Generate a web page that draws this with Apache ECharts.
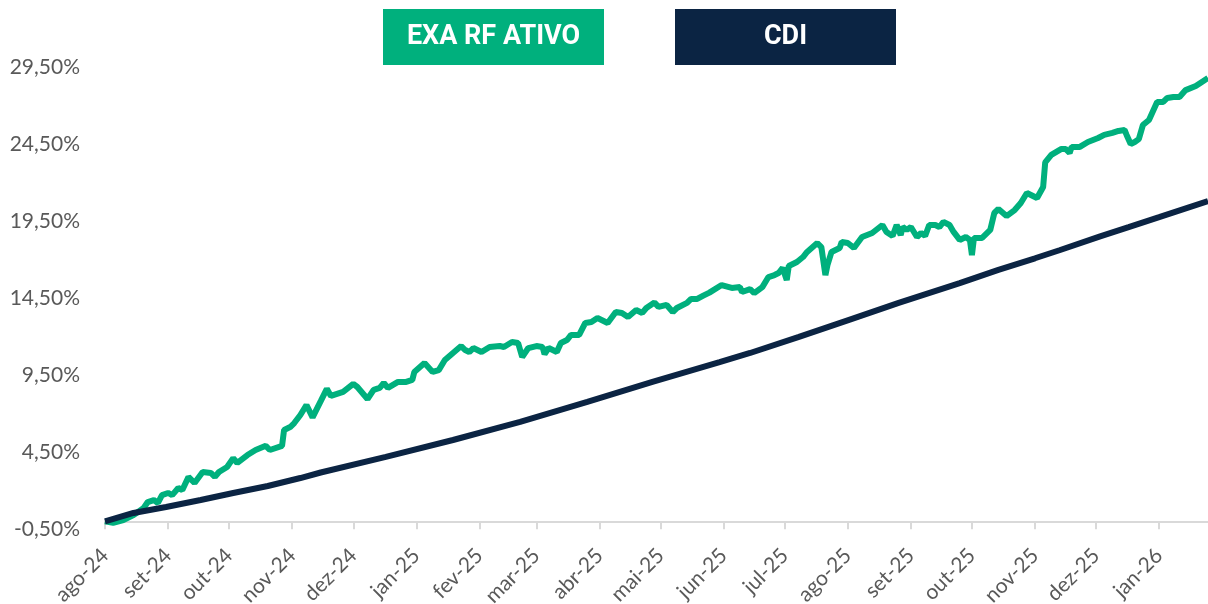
<!DOCTYPE html>
<html>
<head>
<meta charset="utf-8">
<script src="https://cdn.jsdelivr.net/npm/echarts@6/dist/echarts.min.js"></script>
<style>
html,body{margin:0;padding:0;background:#fff;}
#chart{width:1208px;height:604px;}
</style>
</head>
<body>
<div id="chart"></div>
<script>
// ---- Data ----
const seriesNames = ['EXA RF ATIVO', 'CDI'];

const monthStarts = ['2024-08-01','2024-09-01','2024-10-01','2024-11-01','2024-12-01','2025-01-01','2025-02-01','2025-03-01','2025-04-01','2025-05-01','2025-06-01','2025-07-01','2025-08-01','2025-09-01','2025-10-01','2025-11-01','2025-12-01','2026-01-01'];
const monthLabels = ['ago-24','set-24','out-24','nov-24','dez-24','jan-25','fev-25','mar-25','abr-25','mai-25','jun-25','jul-25','ago-25','set-25','out-25','nov-25','dez-25','jan-26'];

const exaDates = ['2024-08-01','2024-08-05','2024-08-10','2024-08-15','2024-08-20','2024-08-22','2024-08-25','2024-08-27','2024-08-29','2024-09-01','2024-09-03','2024-09-06','2024-09-08','2024-09-11','2024-09-14','2024-09-18','2024-09-22','2024-09-24','2024-09-26','2024-09-30','2024-10-03','2024-10-05','2024-10-10','2024-10-14','2024-10-19','2024-10-21','2024-10-27','2024-10-28','2024-10-31','2024-11-02','2024-11-05','2024-11-08','2024-11-11','2024-11-15','2024-11-18','2024-11-20','2024-11-26','2024-12-01','2024-12-03','2024-12-08','2024-12-11','2024-12-14','2024-12-16','2024-12-18','2024-12-23','2024-12-27','2024-12-30','2024-12-31','2025-01-05','2025-01-09','2025-01-12','2025-01-15','2025-01-19','2025-01-23','2025-01-25','2025-01-27','2025-01-29','2025-02-02','2025-02-06','2025-02-11','2025-02-13','2025-02-17','2025-02-20','2025-02-22','2025-02-25','2025-03-01','2025-03-04','2025-03-05','2025-03-07','2025-03-11','2025-03-13','2025-03-16','2025-03-18','2025-03-22','2025-03-25','2025-03-28','2025-03-31','2025-04-05','2025-04-09','2025-04-12','2025-04-15','2025-04-19','2025-04-22','2025-04-24','2025-04-28','2025-04-30','2025-05-04','2025-05-07','2025-05-09','2025-05-14','2025-05-16','2025-05-19','2025-05-22','2025-05-25','2025-05-31','2025-06-05','2025-06-09','2025-06-10','2025-06-14','2025-06-16','2025-06-20','2025-06-23','2025-06-26','2025-06-28','2025-06-30','2025-07-02','2025-07-03','2025-07-07','2025-07-10','2025-07-12','2025-07-17','2025-07-19','2025-07-21','2025-07-22','2025-07-24','2025-07-28','2025-07-29','2025-08-01','2025-08-04','2025-08-08','2025-08-13','2025-08-18','2025-08-20','2025-08-23','2025-08-25','2025-08-27','2025-08-28','2025-08-30','2025-09-01','2025-09-04','2025-09-06','2025-09-08','2025-09-10','2025-09-13','2025-09-15','2025-09-17','2025-09-20','2025-09-22','2025-09-25','2025-09-28','2025-09-30','2025-10-01','2025-10-02','2025-10-06','2025-10-10','2025-10-12','2025-10-14','2025-10-18','2025-10-22','2025-10-25','2025-10-28','2025-11-02','2025-11-05','2025-11-06','2025-11-09','2025-11-14','2025-11-16','2025-11-18','2025-11-19','2025-11-23','2025-11-27','2025-12-02','2025-12-05','2025-12-09','2025-12-12','2025-12-15','2025-12-16','2025-12-18','2025-12-20','2025-12-22','2025-12-24','2025-12-27','2025-12-31','2026-01-03','2026-01-05','2026-01-08','2026-01-11','2026-01-14','2026-01-19','2026-01-22','2026-01-25'];
const exaValues = [0,-0.1,0.08,0.4,0.86,1.25,1.38,1.19,1.7,1.84,1.7,2.16,2.03,2.88,2.49,3.2,3.14,2.88,3.2,3.53,4.1,3.79,4.3,4.63,4.9,4.63,4.9,5.93,6.12,6.38,6.9,7.55,6.75,7.8,8.6,8.14,8.4,8.92,8.72,7.94,8.53,8.66,8.98,8.66,9.05,9.05,9.18,9.7,10.28,9.7,9.82,10.47,10.93,11.38,11.12,10.99,11.25,10.99,11.32,11.38,11.32,11.64,11.58,10.67,11.25,11.38,11.32,10.86,11.25,10.99,11.58,11.77,12.1,12.1,12.88,12.94,13.2,12.88,13.59,13.53,13.27,13.72,13.53,13.85,14.2,13.92,14.05,13.59,13.85,14.18,14.44,14.44,14.65,14.85,15.34,15.15,15.21,14.89,15.08,14.82,15.21,15.86,15.99,16.12,16.45,15.67,16.58,16.84,17.16,17.49,18.07,17.81,15.99,16.64,17.49,17.75,18.14,18.07,17.75,18.46,18.72,19.24,18.79,18.53,19.24,18.59,19.11,18.92,19.11,18.46,18.72,18.53,19.24,19.24,19.11,19.44,19.24,18.79,18.27,18.46,18.27,17.29,18.4,18.4,18.92,20.02,20.28,19.82,20.21,20.67,21.32,20.99,21.71,23.3,23.79,24.18,24.18,23.92,24.31,24.31,24.63,24.89,25.09,25.22,25.35,25.41,25.09,24.5,24.63,24.82,25.73,26.06,27.23,27.23,27.49,27.55,27.55,28.0,28.27,28.53,28.79];

const cdiDates = ['2024-08-01','2024-08-15','2024-08-31','2024-09-17','2024-10-03','2024-10-20','2024-11-05','2024-11-15','2024-12-17','2025-01-19','2025-02-21','2025-03-26','2025-04-27','2025-05-30','2025-06-14','2025-07-08','2025-08-02','2025-08-26','2025-09-25','2025-10-14','2025-11-01','2025-11-13','2025-12-03','2025-12-17','2026-01-01','2026-01-25'];
const cdiValues = [0,0.54,0.93,1.38,1.84,2.29,2.81,3.17,4.18,5.28,6.45,7.75,9.05,10.34,10.93,11.97,13.1,14.18,15.47,16.33,17.08,17.6,18.5,19.1,19.75,20.8];

const axisStart = '2024-08-01';
const axisEnd = '2026-01-25';

// ---- Build ----
const t = s => +echarts.time.parse(s);
const tickTimes = monthStarts.map(t);
const pair = (ds, vs) => ds.map((d, i) => [t(d), vs[i]]);
const colors = ['#00B07D', '#0B2443'];
const fontFam = 'Lato, "Open Sans", sans-serif';

const chart = echarts.init(document.getElementById('chart'), null, {renderer: 'canvas'});

function monthLabel(val) {
  let best = 0, bd = Infinity;
  tickTimes.forEach((tt, i) => { const d = Math.abs(tt - val); if (d < bd) { bd = d; best = i; } });
  return monthLabels[best];
}

const boxW = 221, boxH = 56;
const boxLefts = [383, 675];

chart.setOption({
  animation: false,
  backgroundColor: '#ffffff',
  grid: {left: 105, right: 0, top: 67, bottom: 75, containLabel: false, outerBoundsMode: 'none'},
  xAxis: {
    type: 'value',
    min: t(axisStart),
    max: t(axisEnd),
    axisLine: {show: true, onZero: true, lineStyle: {color: '#D9D9D9', width: 2}},
    axisTick: {show: true, customValues: tickTimes, length: 8, lineStyle: {color: '#D9D9D9', width: 2}},
    axisLabel: {
      customValues: tickTimes,
      rotate: 45,
      margin: 23,
      color: '#595959',
      fontSize: 21,
      fontFamily: fontFam,
      formatter: monthLabel,
      hideOverlap: false,
      showMinLabel: true,
      showMaxLabel: true
    },
    splitLine: {show: false}
  },
  yAxis: {
    type: 'value',
    min: -0.5,
    max: 29.5,
    interval: 5,
    axisLine: {show: false},
    axisTick: {show: false},
    splitLine: {show: false},
    axisLabel: {
      margin: 25,
      color: '#595959',
      fontSize: 21,
      fontFamily: fontFam,
      formatter: v => v.toFixed(2).replace('.', ',') + '%'
    }
  },
  graphic: seriesNames.map((name, i) => ({
    type: 'group',
    left: boxLefts[i],
    top: 9,
    children: [
      {type: 'rect', shape: {x: 0, y: 0, width: boxW, height: boxH}, style: {fill: colors[i]}},
      {type: 'text', x: boxW / 2, y: boxH / 2, style: {text: name, fill: '#ffffff', font: 'bold 27px Roboto, sans-serif', align: 'center', verticalAlign: 'middle'}}
    ]
  })),
  series: [
    {name: seriesNames[0], type: 'line', data: pair(exaDates, exaValues), showSymbol: false, symbol: 'none', lineStyle: {color: colors[0], width: 6}, itemStyle: {color: colors[0]}, z: 2},
    {name: seriesNames[1], type: 'line', data: pair(cdiDates, cdiValues), showSymbol: false, symbol: 'none', lineStyle: {color: colors[1], width: 6}, itemStyle: {color: colors[1]}, z: 3}
  ]
});
</script>
</body>
</html>
